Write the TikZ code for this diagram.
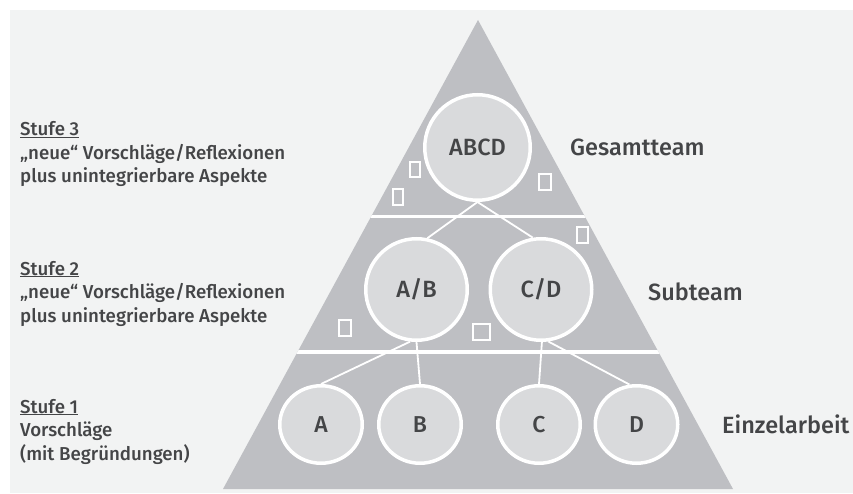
\documentclass[tikz,border=0pt]{standalone}
\usepackage{fontspec}
\setmainfont{Fira Sans}[UprightFont={* Medium}]
\usetikzlibrary{shapes.geometric}
\definecolor{bggray}{HTML}{F2F3F3}
\definecolor{pyramidgray}{HTML}{BEBFC3}
\definecolor{circlegray}{HTML}{D9DADC}
\definecolor{textgray}{HTML}{444547}

\begin{document}
\begin{tikzpicture}[x=1pt, y=-1pt,
    team/.style={circle, draw=white, line width=3.5pt, fill=circlegray, text=textgray, inner sep=0pt, font=\fontsize{23.5}{26}\selectfont},
    single/.style={ellipse, draw=white, line width=3.5pt, fill=circlegray, text=textgray, inner sep=0pt, minimum width=82.5pt, minimum height=77.5pt, font=\fontsize{23}{26}\selectfont},
    stage/.style={anchor=base west, align=left, inner sep=0pt, text=textgray, font=\fontsize{18.7}{23.5}\selectfont},
    teamlabel/.style={anchor=base west, inner sep=0pt, text=textgray, font=\fontsize{23.5}{26}\selectfont},
    link/.style={white, line width=1.8pt},
    divider/.style={white, line width=3.5pt},
    marker/.style={white, line width=1.6pt}
  ]
    \useasboundingbox (0,0) rectangle (853,494);
    \fill[white] (0,0) rectangle (853,494);
    \fill[bggray] (10,10) rectangle (853,493);
    % pyramid
    \coordinate (apex) at (478,20);
    \coordinate (baseL) at (223,489);
    \coordinate (baseR) at (733,489);
    \fill[pyramidgray] (apex) -- (baseR) -- (baseL) -- cycle;
    \begin{scope}
      \clip (apex) -- (baseR) -- (baseL) -- cycle;
      \draw[divider] (200,216.5) -- (760,216.5);
      \draw[divider] (200,352) -- (760,352);
    \end{scope}
    % small markers
    \draw[marker] (410,162) rectangle (420,177);
    \draw[marker] (393,189) rectangle (403,205);
    \draw[marker] (539,174) rectangle (551,190);
    \draw[marker] (577,227) rectangle (588,243);
    \draw[marker] (339,320) rectangle (351,336);
    \draw[marker] (473,324) rectangle (490,340);
    % teams
    \node[team, minimum size=105.5pt] (ABCD) at (477.5,147.5) {ABCD};
    \node[team, minimum size=101.5pt] (AB) at (416.5,289.5) {A/B};
    \node[team, minimum size=101.5pt] (CD) at (541,289.5) {C/D};
    \node[single] (A) at (321,424.5) {A};
    \node[single] (B) at (420,424.5) {B};
    \node[single] (C) at (539,424.5) {C};
    \node[single] (D) at (636.5,424.5) {D};
    \draw[link] (ABCD.south) -- (AB.78);
    \draw[link] (ABCD.south) -- (CD.99);
    \draw[link] (AB.263) -- (A.north);
    \draw[link] (AB.270) -- (B.north);
    \draw[link] (CD.271) -- (C.north);
    \draw[link] (CD.278) -- (D.100);
    % labels (anchored at the last line)
    \node[stage] (stufe3) at (20,183) {\underline{Stufe 3}\\„neue“ Vorschläge/Reflexionen\\plus unintegrierbare Aspekte};
    \node[stage] (stufe2) at (20,322) {\underline{Stufe 2}\\„neue“ Vorschläge/Reflexionen\\plus unintegrierbare Aspekte};
    \node[stage] (stufe1) at (20,460) {\underline{Stufe 1}\\Vorschläge\\(mit Begründungen)};
    \node[teamlabel] (gesamt) at (570,156) {Gesamtteam};
    \node[teamlabel] (sub) at (648,300) {Subteam};
    \node[teamlabel] (einzel) at (722,433) {Einzelarbeit};
\end{tikzpicture}
\end{document}
